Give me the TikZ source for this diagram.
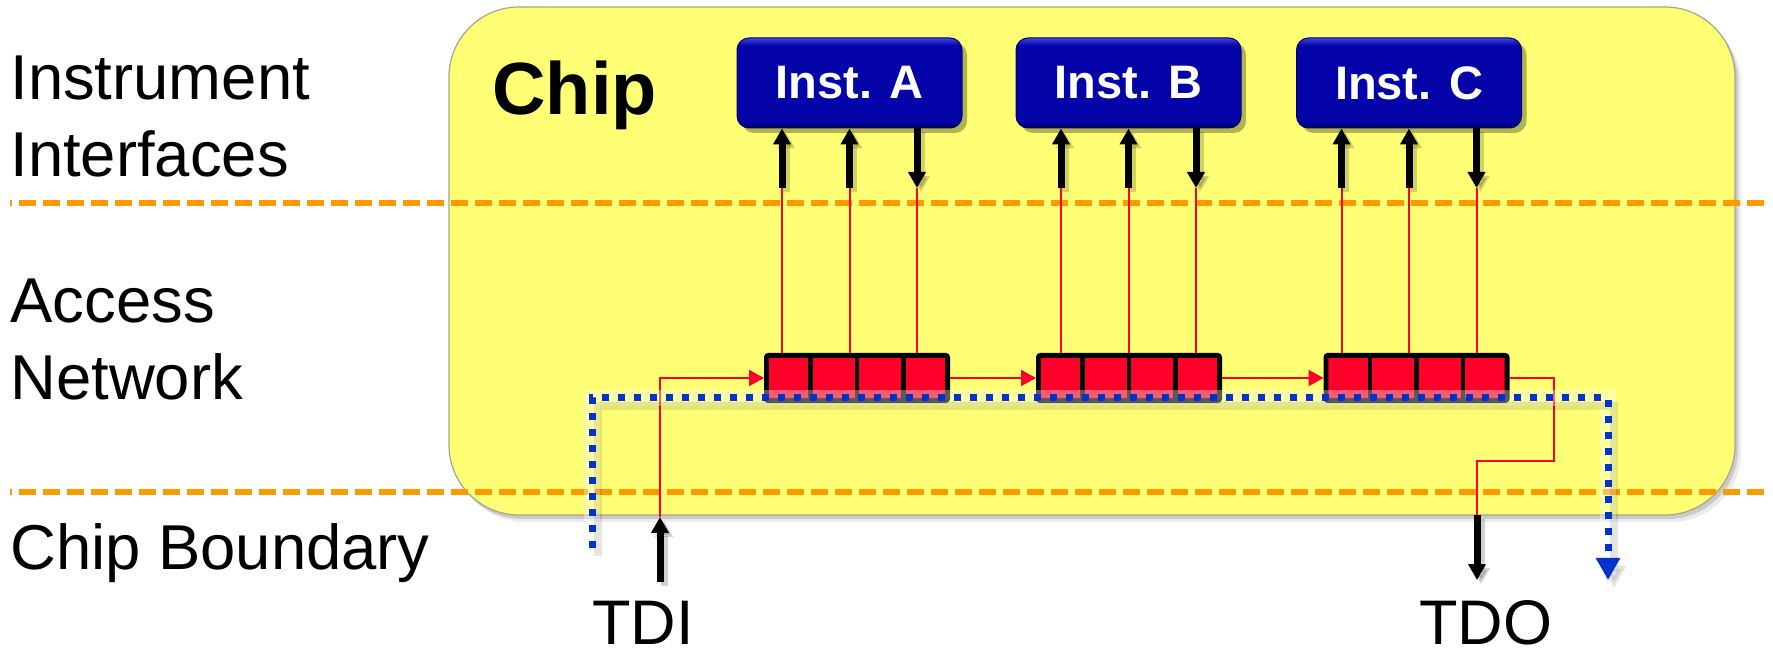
\documentclass[tikz,border=0pt]{standalone}
\usepackage{fontspec}
\setmainfont{Liberation Sans}
\usetikzlibrary{arrows.meta,calc,shadows}
\definecolor{chipyellow}{RGB}{255,255,117}
\definecolor{chipedge}{RGB}{165,165,140}
\definecolor{dashorange}{RGB}{255,153,0}
\definecolor{regred}{RGB}{255,0,43}
\definecolor{dotblue}{RGB}{0,51,204}
\definecolor{instmid}{RGB}{4,4,168}
\definecolor{insttop}{RGB}{70,70,230}
\definecolor{instbot}{RGB}{0,0,110}
\pgfdeclareverticalshading{instshade}{100bp}{color(0bp)=(instbot); color(25bp)=(instbot); color(29bp)=(instmid); color(71bp)=(instmid); color(75bp)=(insttop); color(100bp)=(insttop)}
\newcommand\ShArrow[2]{\draw[arrowshadow] (#1) -- (#2); \draw[blackarrow] (#1) -- (#2);}
\begin{document}
\begin{tikzpicture}[x=0.5pt, y=-0.5pt,
  sidelabel/.style={anchor=base west, inner sep=0pt, font=\fontsize{31.7}{38}\selectfont},
  pinlabel/.style={anchor=base, inner sep=0pt, font=\fontsize{31.5}{38}\selectfont},
  chipbox/.style={draw=chipedge, line width=0.6pt, fill=chipyellow, rounded corners=35pt,
    minimum width=643pt, minimum height=254pt, inner sep=0pt,
    drop shadow={shadow xshift=1.5pt, shadow yshift=-2pt, opacity=0.14, fill=black},
    drop shadow={shadow xshift=3pt, shadow yshift=-3.5pt, opacity=0.08, fill=black}},
  inst/.style={rounded corners=6pt, shade, shading=instshade, draw=instbot, line width=0.5pt,
    minimum width=112.5pt, minimum height=45pt, inner sep=0pt, text=white,
    font=\bfseries\fontsize{23.5}{28}\selectfont,
    drop shadow={shadow xshift=2.5pt, shadow yshift=-2.5pt, opacity=0.3, fill=black}},
  reg/.style={draw=black, line width=2.4pt, fill=regred, minimum width=90.6pt,
    minimum height=22.6pt, inner sep=0pt, rounded corners=1pt},
  regdiv/.style={draw=black, line width=2.2pt},
  sepline/.style={draw=dashorange, line width=3pt, dash pattern=on 8.5pt off 3.5pt, dash phase=7.5pt},
  redline/.style={draw=regred, line width=1pt},
  redtip/.style={-{Triangle[width=8pt,length=7.5pt]}},
  blackarrow/.style={draw=black, line width=3.5pt, -{Triangle[width=8.5pt,length=8pt]}},
  arrowshadow/.style={draw=black, opacity=0.18, line width=3.5pt,
    -{Triangle[width=8.5pt,length=8pt]}, transform canvas={shift={(2pt,-2pt)}}},
  scanpath/.style={draw=dotblue, line width=3.5pt, dash pattern=on 3.5pt off 4.5pt},
  scanglow/.style={draw=white, opacity=0.35, line width=8pt},
  scanshadow/.style={draw=black, opacity=0.1, line width=4pt,
    transform canvas={shift={(3pt,-4pt)}}},
]
\useasboundingbox (0,0) rectangle (1773,657);

% chip body
\node[chipbox] (chip) at (1092,261) {};
\node[anchor=base west, inner sep=0pt, font=\bfseries\fontsize{37}{44}\selectfont] (chiplabel) at (492,115) {Chip};

% separator lines
\draw[sepline] (10,203) -- (1765,203);
\draw[sepline] (10,492) -- (1765,492);

% side labels
\node[sidelabel] (lblInstr) at (10,100) {Instrument};
\node[sidelabel] (lblIntf) at (10,177) {Interfaces};
\node[sidelabel] (lblAcc) at (10,323) {Access};
\node[sidelabel] (lblNet) at (10,400) {Network};
\node[sidelabel] (lblCB) at (10,569) {Chip Boundary};

% instruments and registers
\foreach \n/\ix/\rx in {A/849.5/857, B/1128.5/1129, C/1409/1416.5}{
  \node[inst] (inst\n) at (\ix,83) {Inst. \n};
  \node[reg] (reg\n) at (\rx,378) {};
  \coordinate (\n1) at (\ix-67.5,188);
  \coordinate (\n2) at (\ix,188);
  \coordinate (\n3) at (\ix+67.5,188);
}
\foreach \r in {regA,regB,regC}{
  \foreach \k in {1,2,3}{
    \draw[regdiv] ($(\r.north west)!\k/4!(\r.north east)$) -- ($(\r.south west)!\k/4!(\r.south east)$);
  }
}

% red links from instrument ports to registers
\foreach \n in {A,B,C}{
  \foreach \k in {1,2,3}{
    \draw[redline] (\n\k) -- (\n\k |- reg\n.north);
  }
}
% black port arrows
\foreach \n in {A,B,C}{
  \ShArrow{\n1}{\n1 |- inst\n.south}
  \ShArrow{\n2}{\n2 |- inst\n.south}
  \ShArrow{\n3 |- inst\n.south}{\n3}
}

% scan chain
\draw[redline, redtip] (regA.east) -- (regB.west);
\draw[redline, redtip] (regB.east) -- (regC.west);

\coordinate (tdiTail) at (660,582);
\coordinate (tdiTip) at (660,517);
\ShArrow{tdiTail}{tdiTip}
\draw[redline, redtip] (tdiTip) |- (regA.west);

\coordinate (tdoBend) at (1554,461);
\coordinate (tdoTop) at (1477,515);
\coordinate (tdoTip) at (1477,580);
\draw[redline] (regC.east) -| (tdoBend) -| (tdoTop);
\ShArrow{tdoTop}{tdoTip}

\node[pinlabel] (tdi) at (643,644) {TDI};
\node[pinlabel] (tdo) at (1485.5,644) {TDO};

% blue dotted path
\coordinate (scanStart) at (592,548);
\coordinate (scanCornerL) at (592,398);
\coordinate (scanCornerR) at (1608,398);
\coordinate (scanEnd) at (1608,580);
\draw[scanglow] (scanStart) -- (scanCornerL) -- (scanCornerR) -- (1608,560);
\draw[scanshadow, -{Triangle[width=11.5pt,length=11pt]}] (scanStart) -- (scanCornerL) -- (scanCornerR) -- (scanEnd);
\draw[scanpath, -{Triangle[width=11.5pt,length=11pt]}] (scanStart) -- (scanCornerL) -- (scanCornerR) -- (scanEnd);
\end{tikzpicture}
\end{document}
